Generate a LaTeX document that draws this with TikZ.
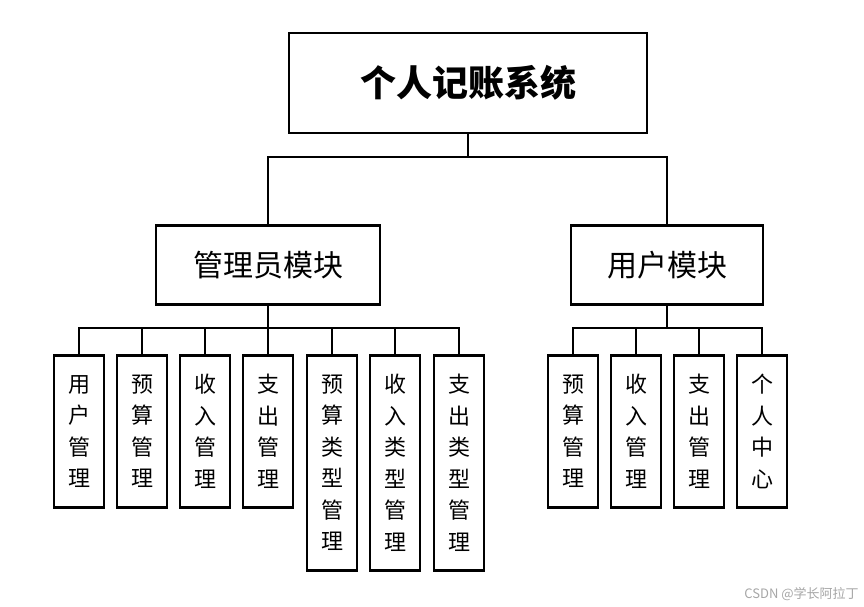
\documentclass[tikz,border=0pt]{standalone}
\usepackage{fontspec}
\newfontfamily\cjk{Noto Sans CJK SC}
\begin{document}
\begin{tikzpicture}[x=1pt,y=-1pt,line width=2.6pt,
 box/.style={draw,inner sep=0pt,font=\cjk},
 leaf/.style={box,minimum width=50pt,anchor=north,align=center,font=\cjk\fontsize{22}{31.5}\selectfont}]
\useasboundingbox (0,0) rectangle (864,606);
\node[box,minimum width=358pt,minimum height=100pt,font=\cjk\bfseries\fontsize{36}{40}\selectfont] (top) at (468,83) {个人记账系统};
\node[box,minimum width=224pt,minimum height=79pt,font=\cjk\fontsize{30}{34}\selectfont] (adm) at (268,265) {管理员模块};
\node[box,minimum width=192pt,minimum height=79pt,font=\cjk\fontsize{30}{34}\selectfont] (usr) at (667,265) {用户模块};
\foreach \n/\x/\t/\h in {a1/79/用\\户\\管\\理/152, a2/142/预\\算\\管\\理/152, a3/205/收\\入\\管\\理/152, a4/268/支\\出\\管\\理/152,
 a5/332/预\\算\\类\\型\\管\\理/215, a6/395/收\\入\\类\\型\\管\\理/215, a7/459/支\\出\\类\\型\\管\\理/215,
 u1/573/预\\算\\管\\理/152, u2/636/收\\入\\管\\理/152, u3/699/支\\出\\管\\理/152, u4/762/个\\人\\中\\心/152}
 \node[leaf,minimum height=\h pt] (\n) at (\x,354) {\t};
\coordinate (tb) at (468,157);
\draw (top.south) -- (tb);
\draw (adm.north) -- (adm.north |- tb) -- (usr.north |- tb) -- (usr.north);
\coordinate (ab) at (268,328);
\draw (adm.south) -- (ab);
\draw (a1.north) -- (a1.north |- ab) -- (a7.north |- ab) -- (a7.north);
\foreach \n in {a2,a3,a4,a5,a6} \draw (\n.north) -- (\n.north |- ab);
\coordinate (ub) at (667,328);
\draw (usr.south) -- (ub);
\draw (u1.north) -- (u1.north |- ub) -- (u4.north |- ub) -- (u4.north);
\foreach \n in {u2,u3} \draw (\n.north) -- (\n.north |- ub);
\node[anchor=south east,text=gray!70,font=\cjk\fontsize{13}{14}\selectfont,inner sep=2pt] (wm) at (862,604) {CSDN @学长阿拉丁};
\end{tikzpicture}
\end{document}
